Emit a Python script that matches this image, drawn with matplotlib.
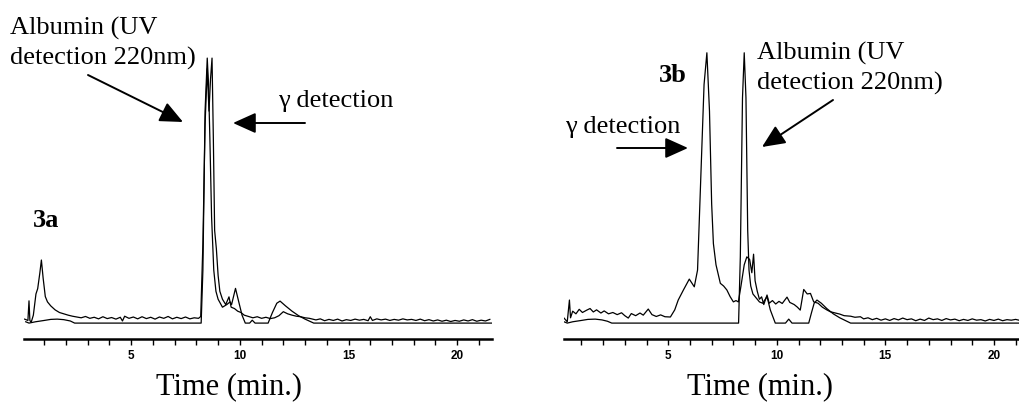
import matplotlib
matplotlib.use("Agg")
import matplotlib.pyplot as plt
from matplotlib.ticker import MultipleLocator

# --- 3a: gamma detector trace (time in min, relative response) ---
gamma_a_t = [0.10, 0.25, 0.30, 0.34, 0.40, 0.50, 0.62, 0.70, 0.80, 0.87, 0.95, 1.05,
             1.15, 1.30, 1.50, 1.70, 1.90, 2.10, 2.30, 2.50, 2.70, 2.90, 3.10, 3.30,
             3.50, 3.70, 3.90, 4.10, 4.30, 4.50, 4.60, 4.70, 4.90, 5.10, 5.30, 5.50,
             5.70, 5.90, 6.10, 6.30, 6.50, 6.70, 6.90, 7.10, 7.30, 7.50, 7.70, 7.90,
             8.10, 8.20, 8.30, 8.40, 8.50, 8.58, 8.65, 8.72, 8.78, 8.84, 8.92, 9.00,
             9.08, 9.20, 9.35, 9.50, 9.60, 9.75, 9.90, 10.05, 10.20, 10.40, 10.60, 10.80,
             11.00, 11.20, 11.40, 11.60, 11.80, 12.00, 12.20, 12.40, 12.60, 12.80, 13.00,
             13.20, 13.50, 13.70, 13.90, 14.10, 14.30, 14.50, 14.70, 14.90, 15.10, 15.30,
             15.50, 15.70, 15.90, 16.00, 16.10, 16.30, 16.50, 16.70, 16.90, 17.10, 17.30,
             17.50, 17.70, 17.90, 18.10, 18.30, 18.50, 18.70, 18.90, 19.10, 19.30, 19.50,
             19.70, 19.90, 20.10, 20.30, 20.50, 20.70, 20.90, 21.10, 21.30, 21.50]
gamma_a_v = [1.5, 1.0, 8.4, 1.0, 0.3, 3.0, 11.0, 13.0, 19.0, 23.8, 17.0, 10.0,
             8.0, 6.5, 5.0, 4.0, 3.5, 3.0, 2.6, 2.3, 2.0, 2.5, 1.8, 2.2,
             1.6, 2.4, 1.7, 2.1, 1.5, 2.2, 0.8, 2.6, 1.8, 2.3, 1.6, 2.4,
             1.7, 2.2, 1.5, 2.3, 1.8, 2.5, 1.6, 2.2, 1.7, 2.3, 1.6, 2.0,
             1.8, 2.5, 30.0, 75.0, 96.0, 80.0, 92.0, 100.0, 70.0, 35.0, 28.0, 18.0,
             12.0, 9.0, 7.0, 9.9, 6.0, 5.5, 4.5, 4.0, 3.0, 2.5, 2.0, 2.4,
             1.8, 2.2, 1.7, 2.0, 2.8, 4.3, 3.5, 3.0, 2.6, 2.4, 2.0,
             1.8, 1.2, 1.6, 0.9, 1.4, 1.0, 1.5, 0.8, 1.3, 1.0, 1.5,
             1.1, 1.4, 0.9, 2.4, 1.0, 1.6, 1.2, 1.5, 1.0, 1.4, 1.1,
             1.6, 1.2, 1.4, 1.0, 1.5, 0.9, 1.3, 0.8, 1.2, 0.7, 1.1,
             0.6, 1.0, 0.7, 1.2, 0.8, 1.3, 0.7, 1.1, 0.8, 1.4]

# --- 3a: UV 220 nm trace ---
uv_a_t = [0.15, 0.30, 0.60, 1.00, 1.30, 1.60, 1.90, 2.20, 2.40, 8.22, 8.30, 8.40,
          8.50, 8.56, 8.62, 8.70, 8.80, 8.90, 9.00, 9.20, 9.40, 9.55, 9.62, 9.80,
          9.95, 10.10, 10.25, 10.45, 10.57, 10.70, 11.30, 11.50, 11.70, 11.85, 12.10,
          12.40, 12.70, 13.00, 13.40, 21.60]
uv_a_v = [0.5, 0.0, 0.5, 1.0, 1.4, 1.5, 1.3, 0.8, 0.0, 0.0, 20.0, 80.0,
          100.0, 90.0, 70.0, 40.0, 20.0, 12.0, 9.0, 6.0, 7.0, 8.0, 7.0, 13.1,
          8.0, 3.0, 0.0, 0.0, 1.1, 0.0, 0.0, 4.0, 7.5, 8.3, 6.5,
          4.5, 2.8, 1.5, 0.0, 0.0]

# --- 3b: gamma detector trace ---
gamma_b_t = [0.20, 0.35, 0.45, 0.50, 0.60, 0.75, 0.90, 1.05, 1.25, 1.40, 1.55, 1.70,
             1.90, 2.05, 2.25, 2.45, 2.65, 2.85, 3.00, 3.16, 3.30, 3.50, 3.70, 3.85,
             4.08, 4.25, 4.45, 4.65, 4.85, 5.10, 5.30, 5.46, 5.70, 5.97, 6.20, 6.35,
             6.50, 6.65, 6.78, 6.90, 7.00, 7.08, 7.20, 7.40, 7.55, 7.70, 7.85, 8.00,
             8.12, 8.23, 8.35, 8.50, 8.62, 8.75, 8.85, 8.93, 9.00, 9.10, 9.20, 9.30,
             9.40, 9.55, 9.65, 9.80, 9.95, 10.10, 10.25, 10.47, 10.60, 10.80, 10.95, 11.08,
             11.24, 11.40, 11.55, 11.70, 11.90, 12.10, 12.30, 12.46, 12.70, 12.90, 13.10,
             13.40, 13.60, 13.85, 14.00, 14.20, 14.40, 14.60, 14.80, 15.00, 15.20, 15.40,
             15.60, 15.80, 16.00, 16.20, 16.40, 16.60, 16.80, 17.00, 17.20, 17.40, 17.60,
             17.80, 18.00, 18.20, 18.40, 18.60, 18.80, 19.00, 19.20, 19.40, 19.60, 19.80,
             20.00, 20.20, 20.40, 20.60, 20.80, 21.00, 21.20]
gamma_b_v = [1.9, 0.5, 8.7, 2.0, 4.5, 3.5, 5.2, 4.0, 4.9, 5.5, 4.2, 5.0,
             3.8, 4.6, 3.5, 4.0, 3.2, 3.9, 2.8, 1.9, 3.6, 2.8, 3.8, 3.0,
             5.3, 3.2, 2.5, 3.1, 2.4, 2.3, 5.0, 8.7, 12.5, 16.6, 13.7, 20.0,
             55.0, 90.0, 102.0, 80.0, 45.0, 30.0, 22.0, 15.0, 14.0, 12.5, 10.0, 8.0,
             8.5, 8.0, 14.0, 22.0, 25.0, 24.0, 19.0, 26.0, 16.0, 12.0, 9.0, 9.9,
             7.0, 10.6, 7.5, 8.5, 7.2, 8.2, 7.4, 9.8, 7.8, 7.0, 6.0, 4.9,
             12.7, 11.0, 11.2, 8.0, 7.5, 6.0, 5.0, 4.3, 3.8, 3.4, 2.8,
             2.6, 2.2, 2.4, 1.6, 2.0, 1.3, 1.8, 1.1, 1.6, 1.0, 1.7,
             1.2, 1.9, 1.3, 1.6, 0.9, 1.5, 1.0, 1.9, 1.3, 1.6, 1.0,
             1.7, 1.2, 1.5, 0.9, 1.4, 1.0, 1.6, 1.1, 1.3, 0.8, 1.4,
             1.0, 1.5, 0.9, 1.3, 1.1, 1.4, 1.0]

# --- 3b: UV 220 nm trace ---
uv_b_t = [0.20, 0.35, 0.60, 1.00, 1.30, 1.64, 1.95, 2.20, 2.40, 8.24, 8.32, 8.42,
          8.50, 8.58, 8.66, 8.72, 8.80, 8.90, 9.00, 9.20, 9.35, 9.55, 9.70, 9.93,
          10.40, 10.55, 10.70, 11.47, 11.60, 11.72, 11.85, 12.05, 12.30, 12.60, 12.90,
          13.40, 21.20]
uv_b_v = [0.5, 0.0, 0.5, 1.0, 1.4, 1.5, 1.2, 0.7, 0.0, 0.0, 25.0, 85.0,
          102.0, 85.0, 35.0, 20.0, 14.0, 11.0, 10.0, 8.0, 7.5, 10.0, 5.0, 0.0,
          0.0, 1.5, 0.0, 0.0, 4.0, 7.5, 8.7, 7.5, 5.5, 3.5, 2.0,
          0.0, 0.0]

W, H = 1020, 407
SERIF = "Liberation Serif"


def px(x, y):
    # pixel position measured from the top-left corner -> figure fraction
    return x / W, 1 - y / H


def setup_axis(ax, xmin, xmax):
    ax.set_xlim(xmin, xmax)
    ax.set_ylim(-6.0, 110.6)
    for side in ("top", "left", "right"):
        ax.spines[side].set_visible(False)
    ax.spines["bottom"].set_linewidth(1.8)
    ax.set_yticks([])
    ax.xaxis.set_major_locator(MultipleLocator(5))
    ax.xaxis.set_minor_locator(MultipleLocator(1))
    ax.tick_params(axis="x", which="both", direction="out", length=4, width=1,
                   pad=4)
    for lab in ax.get_xticklabels():
        lab.set_fontfamily("Liberation Sans")
        lab.set_fontweight("bold")
        lab.set_fontsize(8.5)


def arrow(ax, tail, tip):
    ax.annotate("", xy=px(*tip), xytext=px(*tail), xycoords="figure fraction",
                textcoords="figure fraction", annotation_clip=False,
                arrowprops=dict(arrowstyle="-|>,head_length=1.0,head_width=0.45",
                                mutation_scale=14, lw=1.4, color="black",
                                shrinkA=0, shrinkB=0))


fig = plt.figure(figsize=(W / 100, H / 100), dpi=100)
ax1 = fig.add_axes([24 / W, 68 / H, (492 - 24) / W, 309 / H])
ax2 = fig.add_axes([564 / W, 68 / H, (1020 - 564) / W, 309 / H])

ax1.plot(uv_a_t, uv_a_v, color="black", lw=0.9)
ax1.plot(gamma_a_t, gamma_a_v, color="black", lw=0.9)
ax2.plot(uv_b_t, uv_b_v, color="black", lw=0.9)
ax2.plot(gamma_b_t, gamma_b_v, color="black", lw=0.9)

setup_axis(ax1, 0.07, 21.6)
setup_axis(ax2, 0.2, 21.2)

# labels
fig.text(*px(10, 65), "Albumin (UV\ndetection 220nm)", family=SERIF, fontsize=19,
         va="baseline", ha="left", linespacing=1.4)
fig.text(*px(278, 107), "γ detection", family=SERIF, fontsize=19, va="baseline")
fig.text(*px(33, 227), "3a", family=SERIF, fontsize=19, weight="bold", va="baseline")
fig.text(*px(229, 394), "Time (min.)", family=SERIF, fontsize=22, ha="center",
         va="baseline")

fig.text(*px(757, 90), "Albumin (UV\ndetection 220nm)", family=SERIF, fontsize=19,
         va="baseline", ha="left", linespacing=1.4)
fig.text(*px(565, 133), "γ detection", family=SERIF, fontsize=19, va="baseline")
fig.text(*px(659, 82), "3b", family=SERIF, fontsize=19, weight="bold", va="baseline")
fig.text(*px(760, 394), "Time (min.)", family=SERIF, fontsize=22, ha="center",
         va="baseline")

arrow(ax1, (88, 75), (183, 122))
arrow(ax1, (305, 123), (233, 123))
arrow(ax2, (617, 148), (688, 148))
arrow(ax2, (833, 100), (762, 147))

fig.savefig("out.png", dpi=100)
